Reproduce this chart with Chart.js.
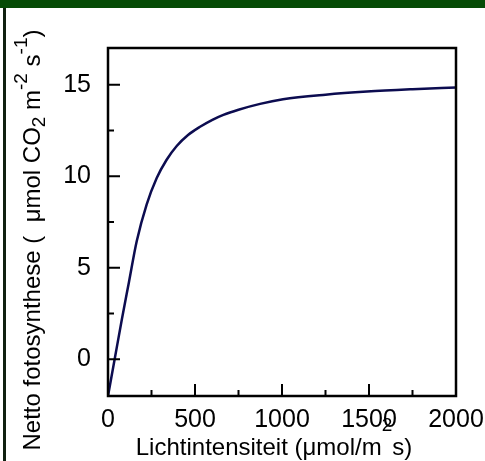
<!DOCTYPE html>
<html>
<head>
<meta charset="utf-8">
<script src="https://cdn.jsdelivr.net/npm/chart.js@4/dist/chart.umd.min.js"></script>
<style>
  body { margin: 0; background: #fff; }
  #wrap { position: relative; width: 485px; height: 461px; overflow: hidden; background: #fff; }
  #chart { position: absolute; left: 0; top: 0; }
  #topBar { position: absolute; left: 0; top: 0; width: 485px; height: 8px; background: #064b06; }
  #leftLine { position: absolute; left: 3px; top: 8px; width: 3px; height: 453px; background: #102010; }
</style>
</head>
<body>
<div id="wrap">
  <canvas id="chart" width="485" height="461"></canvas>
  <div id="topBar"></div>
  <div id="leftLine"></div>
</div>
<script>
// Light response curve
const lightValues = [0, 40, 80, 120, 165, 222, 280, 337, 395, 460, 529, 600, 663, 750, 874, 1006, 1250, 1489, 1750, 2000];
const photoValues = [-2, 0.1, 2.2, 4.2, 6.45, 8.45, 9.9, 10.9, 11.65, 12.25, 12.7, 13.08, 13.35, 13.63, 13.95, 14.2, 14.45, 14.62, 14.75, 14.85];

// Axis ticks
const xTickValues = [0, 500, 1000, 1500, 2000];
const xMinorValues = [250, 750, 1250, 1750];
const yTickValues = [0, 5, 10, 15];
const yMinorValues = [2.5, 7.5, 12.5];

// Axis titles, split in pieces for sub/superscripts
const xTitleParts = [
  { text: 'Lichtintensiteit (', shift: 0 },
  { text: 'μ', shift: 0 },
  { text: 'mol/m', shift: 0 },
  { text: '2', shift: -24, small: true },
  { text: 's)', shift: 0 }
];
const yTitleParts = [
  { text: 'Netto fotosynthese (  ', shift: 0 },
  { text: 'μmol CO', shift: 0 },
  { text: '2', shift: 5, small: true },
  { text: ' m', shift: 0 },
  { text: '-2', shift: -13, small: true },
  { text: ' s', shift: 0 },
  { text: '-1', shift: -13, small: true },
  { text: ')', shift: 0 }
];

const FONT = '"Liberation Sans", Arial, sans-serif';
const titleFont = '24px ' + FONT;
const smallFont = '19px ' + FONT;

function partsWidth(ctx, parts) {
  let w = 0;
  parts.forEach(p => {
    ctx.font = p.small ? smallFont : titleFont;
    w += ctx.measureText(p.text).width;
  });
  return w;
}

function drawParts(ctx, parts, startX, baseY) {
  let x = startX;
  parts.forEach(p => {
    ctx.font = p.small ? smallFont : titleFont;
    ctx.fillText(p.text, x, baseY + p.shift);
    x += ctx.measureText(p.text).width;
  });
}

// Frame, inward tick marks and axis titles
const framePlugin = {
  id: 'framePlugin',
  afterDraw(chart) {
    const ctx = chart.ctx;
    const a = chart.chartArea;
    const xs = chart.scales.x;
    const ys = chart.scales.y;

    ctx.save();
    ctx.strokeStyle = '#000';
    ctx.lineWidth = 2;
    ctx.beginPath();
    xTickValues.forEach(v => {
      const px = xs.getPixelForValue(v);
      ctx.moveTo(px, a.bottom); ctx.lineTo(px, a.bottom - 12);
    });
    xMinorValues.forEach(v => {
      const px = xs.getPixelForValue(v);
      ctx.moveTo(px, a.bottom); ctx.lineTo(px, a.bottom - 6);
    });
    yTickValues.forEach(v => {
      const py = ys.getPixelForValue(v);
      ctx.moveTo(a.left, py); ctx.lineTo(a.left + 12, py);
    });
    yMinorValues.forEach(v => {
      const py = ys.getPixelForValue(v);
      ctx.moveTo(a.left, py); ctx.lineTo(a.left + 6, py);
    });
    ctx.stroke();

    ctx.lineWidth = 2.5;
    ctx.strokeRect(a.left, a.top, a.right - a.left, a.bottom - a.top);

    // titles
    ctx.fillStyle = '#000';
    ctx.textBaseline = 'alphabetic';
    ctx.textAlign = 'left';
    const xw = partsWidth(ctx, xTitleParts);
    drawParts(ctx, xTitleParts, 274 - xw / 2, 455);

    const yw = partsWidth(ctx, yTitleParts);
    ctx.translate(40, 240);
    ctx.rotate(-Math.PI / 2);
    drawParts(ctx, yTitleParts, -yw / 2, 0);
    ctx.restore();
  }
};

const ctx = document.getElementById('chart').getContext('2d');
new Chart(ctx, {
  type: 'line',
  data: {
    datasets: [{
      data: lightValues.map((v, i) => ({ x: v, y: photoValues[i] })),
      borderColor: '#0c0c50',
      borderWidth: 2.5,
      pointRadius: 0,
      fill: false,
      cubicInterpolationMode: 'monotone'
    }]
  },
  options: {
    responsive: false,
    animation: false,
    devicePixelRatio: 1,
    layout: { padding: { left: 0, top: 48, right: 29, bottom: 0 } },
    plugins: {
      legend: { display: false },
      tooltip: { enabled: false }
    },
    scales: {
      x: {
        type: 'linear',
        min: 0,
        max: 2000,
        grid: { display: false, drawTicks: false },
        border: { display: false },
        ticks: {
          color: '#000',
          font: { family: FONT, size: 25 },
          padding: 9,
          maxRotation: 0,
          callback: value => String(value)
        },
        afterBuildTicks: scale => { scale.ticks = xTickValues.map(v => ({ value: v })); },
        afterFit: scale => {
          scale.height = 65;
          scale.paddingLeft = 0;
          scale.paddingRight = 0;
        }
      },
      y: {
        type: 'linear',
        min: -2,
        max: 17,
        grid: { display: false, drawTicks: false },
        border: { display: false },
        ticks: {
          color: '#000',
          font: { family: FONT, size: 25 },
          padding: 17,
          callback: value => String(value)
        },
        afterBuildTicks: scale => { scale.ticks = yTickValues.map(v => ({ value: v })); },
        afterFit: scale => {
          scale.width = 108;
          scale.paddingTop = 0;
          scale.paddingBottom = 0;
        }
      }
    }
  },
  plugins: [framePlugin]
});
</script>
</body>
</html>
